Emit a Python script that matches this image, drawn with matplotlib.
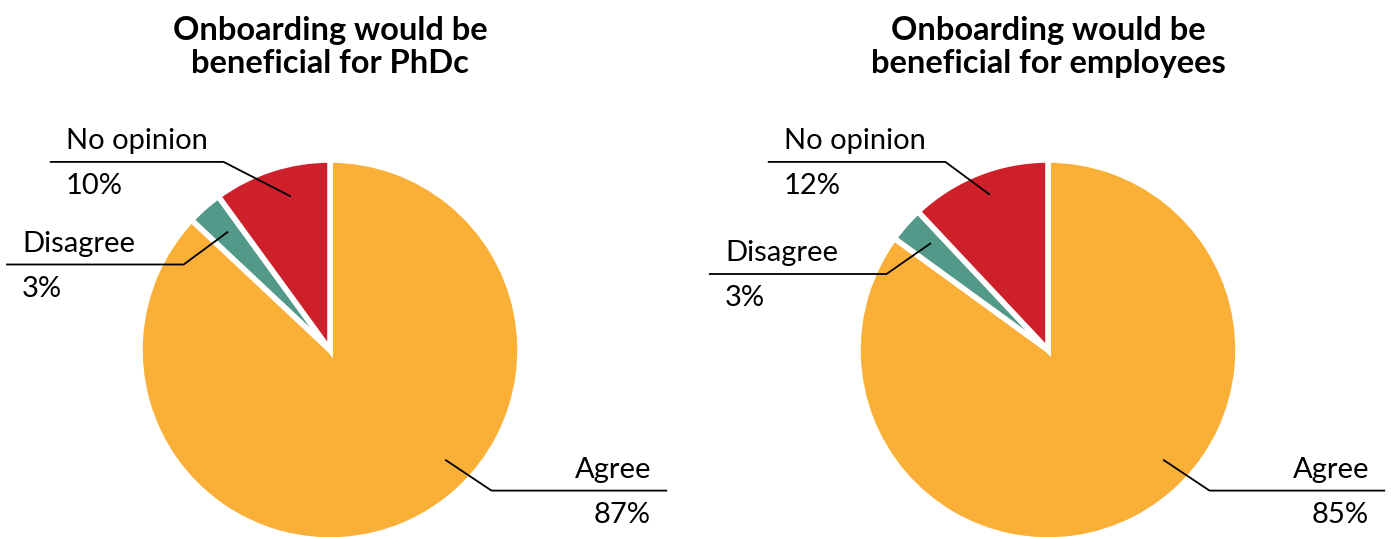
import numpy as np
import matplotlib
matplotlib.use("Agg")
import matplotlib.pyplot as plt

plt.rcParams["font.family"] = ["Lato", "DejaVu Sans"]

# Дані
titles = ["Onboarding would be\nbeneficial for PhDc", "Onboarding would be\nbeneficial for employees"]
categories = ["Agree", "Disagree", "No opinion"]
values_phdc = [87, 3, 10]
values_employees = [85, 3, 12]
colors = ["#FAB037", "#52998A", "#CD202B"]

# Розміщення підписів (у координатах осей, радіус = 1)
# start, elbow, end of leader line; text side
leaders_phdc = {
    "Agree": [(0.61, -0.58), (0.85, -0.74), (1.77, -0.74), "right"],
    "Disagree": [(-0.54, 0.62), (-0.77, 0.45), (-1.70, 0.45), "left"],
    "No opinion": [(-0.21, 0.81), (-0.56, 0.99), (-1.47, 0.99), "left"],
}
leaders_employees = {
    "Agree": [(0.61, -0.58), (0.85, -0.74), (1.77, -0.74), "right"],
    "Disagree": [(-0.62, 0.56), (-0.85, 0.40), (-1.78, 0.40), "left"],
    "No opinion": [(-0.31, 0.82), (-0.54, 0.99), (-1.47, 0.99), "left"],
}

W, H = 1391, 537
R = 190
centers = [(330, 350), (1048, 350)]

fig = plt.figure(figsize=(W / 100, H / 100), dpi=100)

for title, values, leaders, (cx, cy) in zip(
    titles, [values_phdc, values_employees], [leaders_phdc, leaders_employees], centers
):
    ax = fig.add_axes([(cx - R) / W, (H - cy - R) / H, 2 * R / W, 2 * R / H])
    ax.pie(
        values,
        colors=colors,
        startangle=90,
        counterclock=False,
        radius=1,
        wedgeprops=dict(edgecolor="white", linewidth=4),
    )
    ax.set_xlim(-1, 1)
    ax.set_ylim(-1, 1)
    ax.set_aspect("auto")
    ax.axis("off")

    for cat, val in zip(categories, values):
        (x0, y0), (x1, y1), (x2, y2), side = leaders[cat]
        ax.plot([x0, x1, x2], [y0, y1, y2], color="black", lw=1.3, clip_on=False)
        pad = 0.08
        if side == "right":
            tx, ha = x2 - pad, "right"
        else:
            tx, ha = x2 + pad, "left"
        ax.text(tx, y2 + 0.04, cat, ha=ha, va="bottom", fontsize=21, clip_on=False)
        ax.text(tx, y2 - 0.06, f"{val}%", ha=ha, va="top", fontsize=21, clip_on=False)

    fig.text(cx / W, 1 - 47 / H, title, ha="center", va="center",
             fontsize=23.5, fontweight="bold", linespacing=1.15)

fig.savefig("out.png", dpi=100)
